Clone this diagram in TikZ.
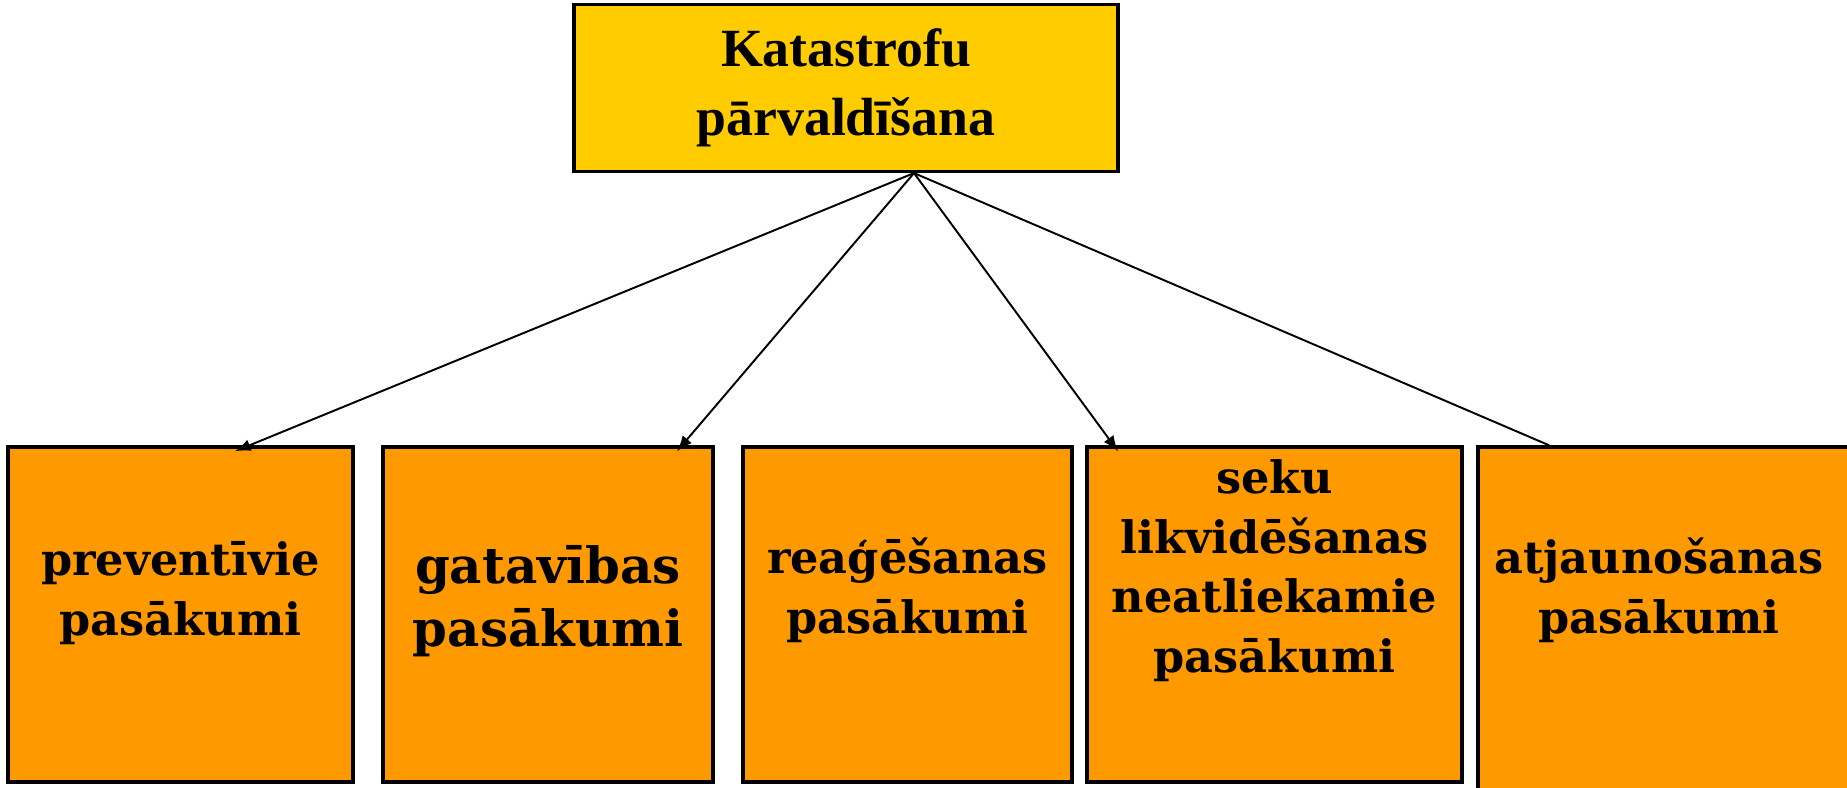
\documentclass[tikz,border=0pt]{standalone}
\usepackage{fontspec}
\setmainfont{Liberation Serif}
\newfontfamily\slabfont{DejaVu Serif}
\usetikzlibrary{arrows}

\definecolor{mgmtyellow}{HTML}{FFCC00}
\definecolor{measorange}{HTML}{FF9900}

\begin{document}
\begin{tikzpicture}[
    topbox/.style={draw, line width=0.9pt, fill=mgmtyellow, minimum width=5.44cm, minimum height=1.67cm, align=center, font=\bfseries\fontsize{15.3}{19.5}\selectfont},
    measbox/.style={draw, line width=1pt, fill=measorange, minimum height=3.35cm},
    measlbl/.style={align=center, font=\slabfont\bfseries\fontsize{12.7}{16.9}\selectfont},
    conn/.style={line width=0.55pt, ->, >=latex}]
    \clip (0,0) rectangle (18.47,-7.88);

    % the main box
    \node[topbox] (mgmt) at (8.46,-0.88) {Katastrofu\\pārvaldīšana};
    \coordinate (hub) at ([xshift=0.68cm]mgmt.south);

    % the five groups of measures
    \node[measbox, minimum width=3.45cm] (prev) at (1.805,-6.145) {};
    \node[measbox, minimum width=3.30cm] (gat) at (5.48,-6.145) {};
    \node[measbox, minimum width=3.29cm] (reag) at (9.075,-6.145) {};
    \node[measbox, minimum width=3.75cm] (seku) at (12.745,-6.145) {};
    \node[measbox, minimum width=4.00cm, minimum height=3.6cm] (atj) at (16.78,-6.27) {};

    \node[measlbl] at ([yshift=-1.48cm]prev.north) {preventīvie\\pasākumi};
    \node[measlbl, font=\slabfont\bfseries\fontsize{14.2}{18}\selectfont] at ([yshift=-1.56cm]gat.north) {gatavības\\pasākumi};
    \node[measlbl] at ([yshift=-1.45cm]reag.north) {reaģēšanas\\pasākumi};
    \node[measlbl] at ([yshift=-1.255cm]seku.north) {seku\\likvidēšanas\\neatliekamie\\pasākumi};
    \node[measlbl] at ([xshift=-0.19cm,yshift=-1.45cm]atj.north) {atjaunošanas\\pasākumi};

    % connectors
    \draw[conn] (hub) -- ([xshift=0.545cm,yshift=-0.06cm]prev.north);
    \draw[conn] (hub) -- ([xshift=1.29cm,yshift=-0.06cm]gat.north);
    \draw[conn] (hub) -- ([xshift=2.105cm,yshift=-0.06cm]reag.north);
    \draw[line width=0.55pt] (hub) -- ([xshift=-1.29cm]atj.north);
\end{tikzpicture}
\end{document}
